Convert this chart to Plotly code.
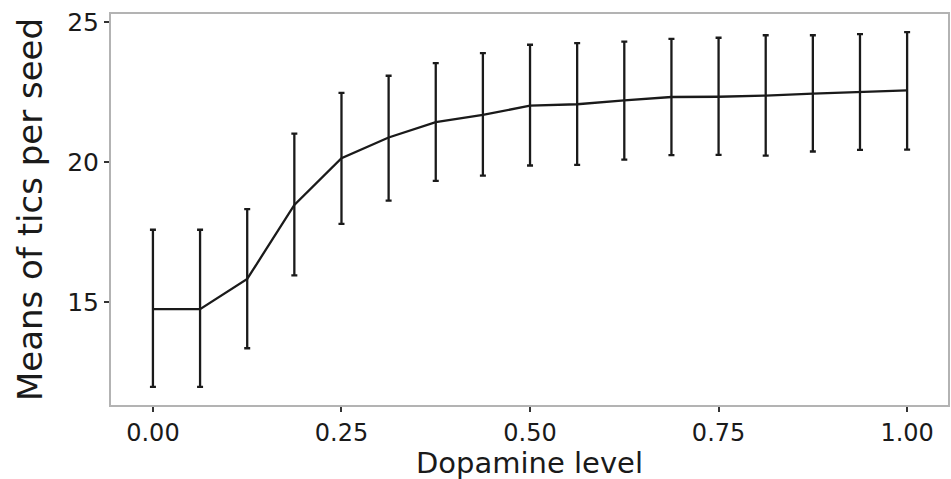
import plotly.graph_objects as go

dopamine = [0.0, 0.0625, 0.125, 0.1875, 0.25, 0.3125, 0.375, 0.4375, 0.5,
            0.5625, 0.625, 0.6875, 0.75, 0.8125, 0.875, 0.9375, 1.0]
mean_tics = [14.74, 14.74, 15.82, 18.47, 20.14, 20.88, 21.43, 21.69, 22.02,
             22.07, 22.21, 22.33, 22.34, 22.38, 22.45, 22.51, 22.57]
upper = [17.58, 17.58, 18.32, 21.02, 22.48, 23.09, 23.54, 23.90, 24.20,
         24.26, 24.31, 24.41, 24.45, 24.54, 24.54, 24.58, 24.65]
lower = [11.96, 11.96, 13.34, 15.95, 17.79, 18.62, 19.33, 19.52, 19.88,
         19.90, 20.09, 20.25, 20.26, 20.23, 20.38, 20.44, 20.45]
x_ticks = [0.0, 0.25, 0.5, 0.75, 1.0]
x_labels = ["0.00", "0.25", "0.50", "0.75", "1.00"]
y_ticks = [15, 20, 25]

err_plus = [u - m for u, m in zip(upper, mean_tics)]
err_minus = [m - l for m, l in zip(mean_tics, lower)]

fig = go.Figure()
fig.add_trace(go.Scatter(
    x=dopamine, y=mean_tics, mode="lines",
    line=dict(color="#1a1a1a", width=2.3),
    error_y=dict(type="data", symmetric=False, array=err_plus,
                 arrayminus=err_minus, color="#1a1a1a", thickness=2.3, width=3),
    showlegend=False,
))

font = "DejaVu Sans, Verdana, sans-serif"
fig.update_layout(
    width=951, height=479,
    margin=dict(l=111, r=1, t=14, b=74),
    plot_bgcolor="white", paper_bgcolor="white",
    font=dict(family=font, color="#1a1a1a"),
)
fig.add_annotation(
    text="Dopamine level", xref="paper", yref="paper", x=0.5, y=0,
    xanchor="center", yanchor="bottom", yshift=-77, showarrow=False,
    font=dict(size=29, color="#1a1a1a"),
)
fig.update_xaxes(
    range=[-0.0556, 1.0542], tickvals=x_ticks, ticktext=x_labels,
    showgrid=False, zeroline=False,
    showline=True, mirror=True, linecolor="#b3b3b3", linewidth=2,
    ticks="outside", ticklen=5, tickwidth=2, tickcolor="#333333",
    tickfont=dict(size=24, color="#1a1a1a"),
)
fig.update_yaxes(
    range=[11.31, 25.30], tickvals=y_ticks,
    showgrid=False, zeroline=False,
    showline=True, mirror=True, linecolor="#b3b3b3", linewidth=2,
    ticks="outside", ticklen=5, tickwidth=2, tickcolor="#333333",
    tickfont=dict(size=25, color="#1a1a1a"),
    title=dict(text="Means of tics per seed", font=dict(size=34, color="#1a1a1a"), standoff=14),
)
fig.write_html("out.html")
